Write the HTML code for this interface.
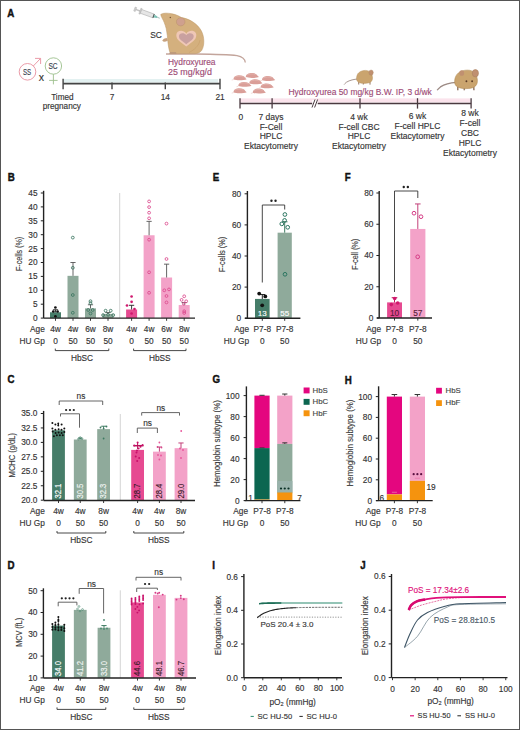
<!DOCTYPE html>
<html><head><meta charset="utf-8"><style>
html,body{margin:0;padding:0;background:#fff;}
#wrap{position:relative;width:520px;height:730px;overflow:hidden;background:#fff;}
#frame{position:absolute;left:0;top:0;width:518px;height:728px;border:1px solid #555;}
svg{position:absolute;left:0;top:0;}
svg text{font-family:'Liberation Sans',sans-serif;}
</style></head><body><div id="wrap">
<svg width="520" height="730" viewBox="0 0 520 730">
<text transform="translate(7.20 16.90) scale(0.84 1)" font-size="11.6" font-weight="bold" fill="#111" stroke="#111" stroke-width="0.45">A</text>
<circle cx="27.50" cy="71.80" r="8.30" fill="none" stroke="#e8909e" stroke-width="0.9"/>
<path d="M33.3 66.0 L40.4 58.6" fill="none" stroke="#e8909e" stroke-width="0.9"/>
<path d="M35.0 58.4 L40.6 58.4 L40.6 64.0" fill="none" stroke="#e8909e" stroke-width="0.9"/>
<text x="27.00" y="74.80" font-size="9.0" text-anchor="middle" fill="#3a4450" stroke="#3a4450" stroke-width="0.14" textLength="8.2" lengthAdjust="spacingAndGlyphs">SS</text>
<text x="41.40" y="80.60" font-size="10.5" text-anchor="middle" fill="#333" stroke="#333" stroke-width="0.14">x</text>
<circle cx="53.40" cy="66.00" r="8.20" fill="none" stroke="#9cc08c" stroke-width="0.9"/>
<line x1="53.40" y1="74.20" x2="53.40" y2="84.40" stroke="#9cc08c" stroke-width="0.9"/>
<line x1="49.10" y1="80.40" x2="57.60" y2="80.40" stroke="#9cc08c" stroke-width="0.9"/>
<text x="53.00" y="69.10" font-size="9.0" text-anchor="middle" fill="#3a4450" stroke="#3a4450" stroke-width="0.14" textLength="9.2" lengthAdjust="spacingAndGlyphs">SC</text>
<rect x="63.10" y="79.00" width="154.90" height="3.60" fill="#e3f1f1"/>
<line x1="63.10" y1="83.60" x2="220.00" y2="83.60" stroke="#444" stroke-width="1.6"/>
<line x1="63.10" y1="78.80" x2="63.10" y2="89.30" stroke="#444" stroke-width="1.4"/>
<line x1="112.00" y1="82.50" x2="112.00" y2="89.30" stroke="#444" stroke-width="1.4"/>
<text x="112.00" y="100.00" font-size="8.3" text-anchor="middle" fill="#333" stroke="#333" stroke-width="0.14">7</text>
<line x1="165.30" y1="82.50" x2="165.30" y2="89.30" stroke="#444" stroke-width="1.4"/>
<text x="165.30" y="100.00" font-size="8.3" text-anchor="middle" fill="#333" stroke="#333" stroke-width="0.14">14</text>
<line x1="220.00" y1="78.80" x2="220.00" y2="89.30" stroke="#444" stroke-width="1.4"/>
<text x="220.00" y="100.00" font-size="8.3" text-anchor="middle" fill="#333" stroke="#333" stroke-width="0.14">21</text>
<text x="62.40" y="100.00" font-size="8.2" text-anchor="middle" fill="#333" stroke="#333" stroke-width="0.14">Timed</text>
<text x="61.80" y="109.40" font-size="8.2" text-anchor="middle" fill="#333" stroke="#333" stroke-width="0.14">pregnancy</text>
<text x="168.00" y="64.60" font-size="8.4" text-anchor="start" fill="#9e4c76" stroke="#9e4c76" stroke-width="0.14">Hydroxyurea</text>
<text x="168.00" y="74.80" font-size="8.6" text-anchor="start" fill="#9e4c76" stroke="#9e4c76" stroke-width="0.14" textLength="44.0" lengthAdjust="spacingAndGlyphs">25 mg/kg/d</text>
<text x="156.00" y="38.20" font-size="8.4" text-anchor="middle" fill="#333" stroke="#333" stroke-width="0.14">SC</text>
<g transform="translate(135 9.2) rotate(20)">
<rect x="0.00" y="-0.70" width="6.00" height="1.40" fill="#c4c4c4"/>
<rect x="-0.6" y="-2.1" width="1.6" height="4.2" fill="#cfcfcf" stroke="#aaa" stroke-width="0.4"/>
<rect x="5.2" y="-3.0" width="1.3" height="6.0" fill="#cfcfcf" stroke="#aaa" stroke-width="0.4"/>
<rect x="6.4" y="-2.0" width="13.4" height="4.0" fill="#e6e6e6" stroke="#a5a5a5" stroke-width="0.5"/>
<rect x="19.20" y="-2.00" width="1.20" height="4.00" fill="#4f5a58"/>
<path d="M20.4 -1.5 L23.6 -0.8 L23.6 0.8 L20.4 1.5 Z" fill="#7cc2b6"/>
<line x1="23.60" y1="0.00" x2="26.30" y2="0.00" stroke="#5a8a84" stroke-width="0.5"/>
</g>
<path d="M166 54.0 L196 54.0 C210 54.2 228 54.6 237 55.6 C242 56.6 245 58.8 245.3 62.5" fill="none" stroke="#c3a59c" stroke-width="1.3"/>
<path d="M160.8 14.3 C163 12.8 168 12.9 172 13.8 C175.5 14.5 178.5 15.6 181.5 17.6 C189.5 18.8 197.5 23.8 201.3 30.8 C204.6 37 204.6 46 201.6 50.5 C200.2 52.5 198 53.4 195 53.6 L170.5 53.6 C169.2 51 168.5 47 168 43 C167.6 38 167.2 33 166.2 28.5 C165 24 163.5 20.5 162.3 18.5 C161.5 17 160.8 15.5 160.8 14.3 Z" fill="#d4b07e" stroke="#bb9462" stroke-width="0.5"/>
<path d="M189 52.5 C194 50 199 46 200 40" fill="none" stroke="#c8a06a" stroke-width="0.6"/>
<ellipse cx="180.7" cy="21.8" rx="4.3" ry="4.1" fill="#cfa08e" stroke="#b8906a" stroke-width="0.5"/>
<circle cx="170.30" cy="17.50" r="0.75" fill="#7a5535"/>
<path d="M186.30 46.50 C180.80 41.88 176.30 40.23 176.30 34.95 C176.30 30.33 183.30 29.01 186.30 33.63 C189.30 29.01 196.30 30.33 196.30 34.95 C196.30 40.23 191.80 41.88 186.30 46.50 Z" fill="#efc7b6"/>
<path d="M186.30 44.20 C182.23 40.95 178.90 39.79 178.90 36.08 C178.90 32.83 184.08 31.90 186.30 35.15 C188.52 31.90 193.70 32.83 193.70 36.08 C193.70 39.79 190.37 40.95 186.30 44.20 Z" fill="#c9a1a0"/>
<path d="M167 38.3 C165 38.2 162.8 39.3 162.6 40.8 C163.5 42 165.8 41.5 167.5 40.6 Z" fill="#c8a282" stroke="#bb9462" stroke-width="0.35"/>
<path d="M169 53.8 L176.5 53.8 L176 52.2 L170 52.2 Z" fill="#b9957a"/>
<g transform="translate(239.9 77.8)">
<path d="M-6.3 1.6 C-6.6 -1.2 -3.5 -2.5 -0.5 -2.5 C2.5 -2.5 4.5 -1.4 5.4 0.2 L6.8 1.4 C4 2.6 -3.5 2.8 -6.3 1.6 Z" fill="#da9e98"/>
<path d="M-5.5 -0.5 C-3 -1.8 1 -2 3.5 -0.8" fill="none" stroke="#e6bcb6" stroke-width="0.6"/>
<line x1="-6.30" y1="1.80" x2="-8.20" y2="2.30" stroke="#e3b8b2" stroke-width="0.5"/>
</g>
<g transform="translate(252.2 75.5)">
<path d="M-6.3 1.6 C-6.6 -1.2 -3.5 -2.5 -0.5 -2.5 C2.5 -2.5 4.5 -1.4 5.4 0.2 L6.8 1.4 C4 2.6 -3.5 2.8 -6.3 1.6 Z" fill="#da9e98"/>
<path d="M-5.5 -0.5 C-3 -1.8 1 -2 3.5 -0.8" fill="none" stroke="#e6bcb6" stroke-width="0.6"/>
<line x1="-6.30" y1="1.80" x2="-8.20" y2="2.30" stroke="#e3b8b2" stroke-width="0.5"/>
</g>
<g transform="translate(268.4 78.6)">
<path d="M-6.3 1.6 C-6.6 -1.2 -3.5 -2.5 -0.5 -2.5 C2.5 -2.5 4.5 -1.4 5.4 0.2 L6.8 1.4 C4 2.6 -3.5 2.8 -6.3 1.6 Z" fill="#da9e98"/>
<path d="M-5.5 -0.5 C-3 -1.8 1 -2 3.5 -0.8" fill="none" stroke="#e6bcb6" stroke-width="0.6"/>
<line x1="-6.30" y1="1.80" x2="-8.20" y2="2.30" stroke="#e3b8b2" stroke-width="0.5"/>
</g>
<g transform="translate(244.7 84.4)">
<path d="M-6.3 1.6 C-6.6 -1.2 -3.5 -2.5 -0.5 -2.5 C2.5 -2.5 4.5 -1.4 5.4 0.2 L6.8 1.4 C4 2.6 -3.5 2.8 -6.3 1.6 Z" fill="#da9e98"/>
<path d="M-5.5 -0.5 C-3 -1.8 1 -2 3.5 -0.8" fill="none" stroke="#e6bcb6" stroke-width="0.6"/>
<line x1="-6.30" y1="1.80" x2="-8.20" y2="2.30" stroke="#e3b8b2" stroke-width="0.5"/>
</g>
<g transform="translate(255.7 81.8)">
<path d="M-6.3 1.6 C-6.6 -1.2 -3.5 -2.5 -0.5 -2.5 C2.5 -2.5 4.5 -1.4 5.4 0.2 L6.8 1.4 C4 2.6 -3.5 2.8 -6.3 1.6 Z" fill="#da9e98"/>
<path d="M-5.5 -0.5 C-3 -1.8 1 -2 3.5 -0.8" fill="none" stroke="#e6bcb6" stroke-width="0.6"/>
<line x1="-6.30" y1="1.80" x2="-8.20" y2="2.30" stroke="#e3b8b2" stroke-width="0.5"/>
</g>
<g transform="translate(267.0 85.9)">
<path d="M-6.3 1.6 C-6.6 -1.2 -3.5 -2.5 -0.5 -2.5 C2.5 -2.5 4.5 -1.4 5.4 0.2 L6.8 1.4 C4 2.6 -3.5 2.8 -6.3 1.6 Z" fill="#da9e98"/>
<path d="M-5.5 -0.5 C-3 -1.8 1 -2 3.5 -0.8" fill="none" stroke="#e6bcb6" stroke-width="0.6"/>
<line x1="-6.30" y1="1.80" x2="-8.20" y2="2.30" stroke="#e3b8b2" stroke-width="0.5"/>
</g>
<g transform="translate(239.9 90.8)">
<path d="M-6.3 1.6 C-6.6 -1.2 -3.5 -2.5 -0.5 -2.5 C2.5 -2.5 4.5 -1.4 5.4 0.2 L6.8 1.4 C4 2.6 -3.5 2.8 -6.3 1.6 Z" fill="#da9e98"/>
<path d="M-5.5 -0.5 C-3 -1.8 1 -2 3.5 -0.8" fill="none" stroke="#e6bcb6" stroke-width="0.6"/>
<line x1="-6.30" y1="1.80" x2="-8.20" y2="2.30" stroke="#e3b8b2" stroke-width="0.5"/>
</g>
<g transform="translate(259.1 91.1)">
<path d="M-6.3 1.6 C-6.6 -1.2 -3.5 -2.5 -0.5 -2.5 C2.5 -2.5 4.5 -1.4 5.4 0.2 L6.8 1.4 C4 2.6 -3.5 2.8 -6.3 1.6 Z" fill="#da9e98"/>
<path d="M-5.5 -0.5 C-3 -1.8 1 -2 3.5 -0.8" fill="none" stroke="#e6bcb6" stroke-width="0.6"/>
<line x1="-6.30" y1="1.80" x2="-8.20" y2="2.30" stroke="#e3b8b2" stroke-width="0.5"/>
</g>
<rect x="240.00" y="98.40" width="230.40" height="4.10" fill="#fbe3ec"/>
<line x1="240.00" y1="103.50" x2="471.10" y2="103.50" stroke="#4a3a40" stroke-width="1.4"/>
<line x1="240.00" y1="98.20" x2="240.00" y2="108.60" stroke="#4a3a40" stroke-width="1.3"/>
<line x1="272.10" y1="98.20" x2="272.10" y2="108.60" stroke="#4a3a40" stroke-width="1.3"/>
<line x1="360.00" y1="98.20" x2="360.00" y2="108.60" stroke="#4a3a40" stroke-width="1.3"/>
<line x1="417.50" y1="98.20" x2="417.50" y2="108.60" stroke="#4a3a40" stroke-width="1.3"/>
<line x1="471.10" y1="98.20" x2="471.10" y2="108.60" stroke="#4a3a40" stroke-width="1.3"/>
<rect x="312.20" y="100.00" width="5.50" height="7.00" fill="#ffffff"/>
<line x1="312.00" y1="107.50" x2="315.00" y2="99.50" stroke="#4a3a40" stroke-width="1.0"/>
<line x1="314.60" y1="107.50" x2="317.60" y2="99.50" stroke="#4a3a40" stroke-width="1.0"/>
<text x="288.50" y="94.60" font-size="8.45" text-anchor="start" fill="#9e4c76" stroke="#9e4c76" stroke-width="0.14" textLength="143.3" lengthAdjust="spacingAndGlyphs">Hydroxyurea 50 mg/kg B.W. IP, 3 d/wk</text>
<text x="240.80" y="119.80" font-size="8.4" text-anchor="middle" fill="#333" stroke="#333" stroke-width="0.14">0</text>
<text x="271.00" y="119.80" font-size="8.5" text-anchor="middle" fill="#333" stroke="#333" stroke-width="0.14">7 days</text>
<text x="271.00" y="129.60" font-size="8.5" text-anchor="middle" fill="#333" stroke="#333" stroke-width="0.14">F-Cell</text>
<text x="271.00" y="139.40" font-size="8.5" text-anchor="middle" fill="#333" stroke="#333" stroke-width="0.14">HPLC</text>
<text x="271.00" y="149.20" font-size="8.5" text-anchor="middle" fill="#333" stroke="#333" stroke-width="0.14">Ektacytometry</text>
<text x="359.00" y="119.80" font-size="8.5" text-anchor="middle" fill="#333" stroke="#333" stroke-width="0.14">4 wk</text>
<text x="359.00" y="129.60" font-size="8.5" text-anchor="middle" fill="#333" stroke="#333" stroke-width="0.14">F-cell CBC</text>
<text x="359.00" y="139.40" font-size="8.5" text-anchor="middle" fill="#333" stroke="#333" stroke-width="0.14">HPLC</text>
<text x="359.00" y="149.20" font-size="8.5" text-anchor="middle" fill="#333" stroke="#333" stroke-width="0.14">Ektacytometry</text>
<text x="417.50" y="119.20" font-size="8.5" text-anchor="middle" fill="#333" stroke="#333" stroke-width="0.14">6 wk</text>
<text x="417.50" y="129.30" font-size="8.5" text-anchor="middle" fill="#333" stroke="#333" stroke-width="0.14">F-cell HPLC</text>
<text x="417.50" y="139.40" font-size="8.5" text-anchor="middle" fill="#333" stroke="#333" stroke-width="0.14">Ektacytometry</text>
<text x="470.00" y="116.40" font-size="8.5" text-anchor="middle" fill="#333" stroke="#333" stroke-width="0.14">8 wk</text>
<text x="470.00" y="126.35" font-size="8.5" text-anchor="middle" fill="#333" stroke="#333" stroke-width="0.14">F-cell</text>
<text x="470.00" y="136.30" font-size="8.5" text-anchor="middle" fill="#333" stroke="#333" stroke-width="0.14">CBC</text>
<text x="470.00" y="146.25" font-size="8.5" text-anchor="middle" fill="#333" stroke="#333" stroke-width="0.14">HPLC</text>
<text x="470.00" y="156.20" font-size="8.5" text-anchor="middle" fill="#333" stroke="#333" stroke-width="0.14">Ektacytometry</text>
<g transform="translate(364.5 77.0) scale(1.0)">
<path d="M-6.8 2 C-10 2.2 -15 3.2 -18 5.2 C-19.3 6.2 -20 7 -20.3 7.6" fill="none" stroke="#9c8a84" stroke-width="0.9"/>
<line x1="-5.80" y1="5.00" x2="-5.80" y2="7.60" stroke="#9a8070" stroke-width="1.1"/>
<line x1="-1.20" y1="5.00" x2="-1.20" y2="7.60" stroke="#9a8070" stroke-width="1.1"/>
<line x1="5.40" y1="5.00" x2="5.60" y2="7.60" stroke="#9a8070" stroke-width="1.1"/>
<path d="M-8 1.5 C-8 -4 -4 -6.6 1 -6.6 C6 -6.6 8 -3 8 1 C8 5 5 6.4 0 6.4 C-5 6.4 -8 5 -8 1.5 Z" fill="#caa46e" stroke="#b08850" stroke-width="0.4"/>
<ellipse cx="6.6" cy="-4.4" rx="2.2" ry="2.6" fill="#c09070" stroke="#a88060" stroke-width="0.4"/>
</g>
<g transform="translate(466.0 79.5) scale(1.42)">
<path d="M-6.8 2 C-10 2.2 -15 3.2 -18 5.2 C-19.3 6.2 -20 7 -20.3 7.6" fill="none" stroke="#9c8a84" stroke-width="0.9"/>
<line x1="-5.80" y1="5.00" x2="-5.80" y2="7.60" stroke="#9a8070" stroke-width="1.1"/>
<line x1="-1.20" y1="5.00" x2="-1.20" y2="7.60" stroke="#9a8070" stroke-width="1.1"/>
<line x1="5.40" y1="5.00" x2="5.60" y2="7.60" stroke="#9a8070" stroke-width="1.1"/>
<path d="M-8 1.5 C-8 -4 -4 -6.6 1 -6.6 C6 -6.6 8 -3 8 1 C8 5 5 6.4 0 6.4 C-5 6.4 -8 5 -8 1.5 Z" fill="#caa46e" stroke="#b08850" stroke-width="0.4"/>
<ellipse cx="6.6" cy="-4.4" rx="2.2" ry="2.6" fill="#c09070" stroke="#a88060" stroke-width="0.4"/>
<ellipse cx="-3.0" cy="-4.6" rx="1.7" ry="2.0" fill="#c09070"/>
<circle cx="0.30" cy="1.20" r="0.65" fill="#5a3a25"/>
<circle cx="4.30" cy="1.20" r="0.65" fill="#5a3a25"/>
</g>
<text transform="translate(7.70 181.10) scale(0.84 1)" font-size="11.6" font-weight="bold" fill="#111" stroke="#111" stroke-width="0.45">B</text>
<line x1="43.60" y1="190.80" x2="43.60" y2="318.10" stroke="#222" stroke-width="1.4"/>
<line x1="40.80" y1="318.10" x2="43.60" y2="318.10" stroke="#222" stroke-width="1.0"/>
<text x="37.60" y="321.00" font-size="8.3" text-anchor="end" fill="#333" stroke="#333" stroke-width="0.14">0</text>
<line x1="40.80" y1="304.20" x2="43.60" y2="304.20" stroke="#222" stroke-width="1.0"/>
<text x="37.60" y="307.10" font-size="8.3" text-anchor="end" fill="#333" stroke="#333" stroke-width="0.14">5</text>
<line x1="40.80" y1="290.30" x2="43.60" y2="290.30" stroke="#222" stroke-width="1.0"/>
<text x="37.60" y="293.20" font-size="8.3" text-anchor="end" fill="#333" stroke="#333" stroke-width="0.14">10</text>
<line x1="40.80" y1="276.40" x2="43.60" y2="276.40" stroke="#222" stroke-width="1.0"/>
<text x="37.60" y="279.30" font-size="8.3" text-anchor="end" fill="#333" stroke="#333" stroke-width="0.14">15</text>
<line x1="40.80" y1="262.50" x2="43.60" y2="262.50" stroke="#222" stroke-width="1.0"/>
<text x="37.60" y="265.40" font-size="8.3" text-anchor="end" fill="#333" stroke="#333" stroke-width="0.14">20</text>
<line x1="40.80" y1="248.60" x2="43.60" y2="248.60" stroke="#222" stroke-width="1.0"/>
<text x="37.60" y="251.50" font-size="8.3" text-anchor="end" fill="#333" stroke="#333" stroke-width="0.14">25</text>
<line x1="40.80" y1="234.70" x2="43.60" y2="234.70" stroke="#222" stroke-width="1.0"/>
<text x="37.60" y="237.60" font-size="8.3" text-anchor="end" fill="#333" stroke="#333" stroke-width="0.14">30</text>
<line x1="40.80" y1="220.80" x2="43.60" y2="220.80" stroke="#222" stroke-width="1.0"/>
<text x="37.60" y="223.70" font-size="8.3" text-anchor="end" fill="#333" stroke="#333" stroke-width="0.14">35</text>
<line x1="40.80" y1="206.90" x2="43.60" y2="206.90" stroke="#222" stroke-width="1.0"/>
<text x="37.60" y="209.80" font-size="8.3" text-anchor="end" fill="#333" stroke="#333" stroke-width="0.14">40</text>
<line x1="40.80" y1="193.00" x2="43.60" y2="193.00" stroke="#222" stroke-width="1.0"/>
<text x="37.60" y="195.90" font-size="8.3" text-anchor="end" fill="#333" stroke="#333" stroke-width="0.14">45</text>
<text x="22.40" y="253.90" font-size="9.6" text-anchor="middle" fill="#3a3a3a" stroke="#3a3a3a" stroke-width="0.14" transform="rotate(-90 22.4 253.9)" textLength="34.3" lengthAdjust="spacingAndGlyphs">F-cells (%)</text>
<line x1="119.70" y1="193.00" x2="119.70" y2="318.10" stroke="#d0d0d0" stroke-width="0.9"/>
<rect x="50.00" y="312.26" width="11.00" height="5.84" fill="#467d69"/>
<rect x="67.50" y="275.84" width="11.00" height="42.26" fill="#8faa9b"/>
<rect x="85.00" y="308.37" width="11.00" height="9.73" fill="#8faa9b"/>
<rect x="102.50" y="313.93" width="11.00" height="4.17" fill="#8faa9b"/>
<rect x="126.10" y="309.48" width="11.00" height="8.62" fill="#e64a91"/>
<rect x="143.60" y="235.26" width="11.00" height="82.84" fill="#f3a2c8"/>
<rect x="161.10" y="277.51" width="11.00" height="40.59" fill="#f3a2c8"/>
<rect x="178.70" y="305.03" width="11.00" height="13.07" fill="#f3a2c8"/>
<line x1="55.50" y1="312.26" x2="55.50" y2="309.76" stroke="#222" stroke-width="0.9"/>
<line x1="52.90" y1="309.76" x2="58.10" y2="309.76" stroke="#222" stroke-width="0.9"/>
<line x1="73.00" y1="275.84" x2="73.00" y2="262.50" stroke="#555" stroke-width="0.9"/>
<line x1="70.40" y1="262.50" x2="75.60" y2="262.50" stroke="#555" stroke-width="0.9"/>
<line x1="90.50" y1="308.37" x2="90.50" y2="304.76" stroke="#555" stroke-width="0.9"/>
<line x1="87.90" y1="304.76" x2="93.10" y2="304.76" stroke="#555" stroke-width="0.9"/>
<line x1="108.00" y1="313.93" x2="108.00" y2="312.54" stroke="#555" stroke-width="0.9"/>
<line x1="105.40" y1="312.54" x2="110.60" y2="312.54" stroke="#555" stroke-width="0.9"/>
<line x1="131.60" y1="309.48" x2="131.60" y2="305.31" stroke="#222" stroke-width="0.9"/>
<line x1="129.00" y1="305.31" x2="134.20" y2="305.31" stroke="#222" stroke-width="0.9"/>
<line x1="149.10" y1="235.26" x2="149.10" y2="221.36" stroke="#555" stroke-width="0.9"/>
<line x1="146.50" y1="221.36" x2="151.70" y2="221.36" stroke="#555" stroke-width="0.9"/>
<line x1="166.60" y1="277.51" x2="166.60" y2="264.17" stroke="#555" stroke-width="0.9"/>
<line x1="164.00" y1="264.17" x2="169.20" y2="264.17" stroke="#555" stroke-width="0.9"/>
<line x1="184.20" y1="305.03" x2="184.20" y2="302.53" stroke="#555" stroke-width="0.9"/>
<line x1="181.60" y1="302.53" x2="186.80" y2="302.53" stroke="#555" stroke-width="0.9"/>
<circle cx="55.40" cy="307.50" r="1.35" fill="#111"/>
<circle cx="53.30" cy="311.50" r="1.35" fill="#111"/>
<circle cx="57.60" cy="311.50" r="1.35" fill="#111"/>
<circle cx="55.40" cy="316.30" r="1.35" fill="#111"/>
<circle cx="72.80" cy="237.60" r="1.40" fill="none" stroke="#3a7560" stroke-width="0.85"/>
<circle cx="72.80" cy="267.80" r="1.40" fill="none" stroke="#3a7560" stroke-width="0.85"/>
<circle cx="72.80" cy="295.00" r="1.40" fill="none" stroke="#3a7560" stroke-width="0.85"/>
<circle cx="72.80" cy="312.80" r="1.40" fill="none" stroke="#3a7560" stroke-width="0.85"/>
<circle cx="90.50" cy="301.20" r="1.40" fill="none" stroke="#3a7560" stroke-width="0.85"/>
<circle cx="90.50" cy="303.20" r="1.40" fill="none" stroke="#3a7560" stroke-width="0.85"/>
<circle cx="88.20" cy="310.00" r="1.40" fill="none" stroke="#3a7560" stroke-width="0.85"/>
<circle cx="92.70" cy="310.00" r="1.40" fill="none" stroke="#3a7560" stroke-width="0.85"/>
<circle cx="90.50" cy="313.50" r="1.40" fill="none" stroke="#3a7560" stroke-width="0.85"/>
<circle cx="105.60" cy="310.70" r="1.40" fill="none" stroke="#3a7560" stroke-width="0.85"/>
<circle cx="110.70" cy="310.70" r="1.40" fill="none" stroke="#3a7560" stroke-width="0.85"/>
<circle cx="103.10" cy="315.10" r="1.40" fill="none" stroke="#3a7560" stroke-width="0.85"/>
<circle cx="108.10" cy="314.70" r="1.40" fill="none" stroke="#3a7560" stroke-width="0.85"/>
<circle cx="113.20" cy="315.10" r="1.40" fill="none" stroke="#3a7560" stroke-width="0.85"/>
<circle cx="131.60" cy="296.50" r="1.35" fill="#d0186e"/>
<circle cx="131.60" cy="301.80" r="1.35" fill="#d0186e"/>
<circle cx="127.00" cy="305.50" r="1.35" fill="#d0186e"/>
<circle cx="131.60" cy="313.50" r="1.35" fill="#d0186e"/>
<circle cx="134.50" cy="309.00" r="1.35" fill="#d0186e"/>
<circle cx="149.10" cy="201.40" r="1.40" fill="none" stroke="#dc4a8e" stroke-width="0.85"/>
<circle cx="149.10" cy="207.10" r="1.40" fill="none" stroke="#dc4a8e" stroke-width="0.85"/>
<circle cx="149.10" cy="212.70" r="1.40" fill="none" stroke="#dc4a8e" stroke-width="0.85"/>
<circle cx="149.10" cy="218.30" r="1.40" fill="none" stroke="#dc4a8e" stroke-width="0.85"/>
<circle cx="149.10" cy="239.70" r="1.40" fill="none" stroke="#dc4a8e" stroke-width="0.85"/>
<circle cx="149.10" cy="272.30" r="1.40" fill="none" stroke="#dc4a8e" stroke-width="0.85"/>
<circle cx="149.10" cy="292.80" r="1.40" fill="none" stroke="#dc4a8e" stroke-width="0.85"/>
<circle cx="166.50" cy="223.60" r="1.40" fill="none" stroke="#dc4a8e" stroke-width="0.85"/>
<circle cx="166.50" cy="259.00" r="1.40" fill="none" stroke="#dc4a8e" stroke-width="0.85"/>
<circle cx="164.30" cy="290.30" r="1.40" fill="none" stroke="#dc4a8e" stroke-width="0.85"/>
<circle cx="169.00" cy="289.40" r="1.40" fill="none" stroke="#dc4a8e" stroke-width="0.85"/>
<circle cx="166.50" cy="296.00" r="1.40" fill="none" stroke="#dc4a8e" stroke-width="0.85"/>
<circle cx="166.50" cy="302.40" r="1.40" fill="none" stroke="#dc4a8e" stroke-width="0.85"/>
<circle cx="184.20" cy="296.30" r="1.40" fill="none" stroke="#dc4a8e" stroke-width="0.85"/>
<circle cx="181.60" cy="299.90" r="1.40" fill="none" stroke="#dc4a8e" stroke-width="0.85"/>
<circle cx="186.20" cy="301.30" r="1.40" fill="none" stroke="#dc4a8e" stroke-width="0.85"/>
<circle cx="183.80" cy="303.80" r="1.40" fill="none" stroke="#dc4a8e" stroke-width="0.85"/>
<circle cx="184.20" cy="311.20" r="1.40" fill="none" stroke="#dc4a8e" stroke-width="0.85"/>
<circle cx="184.20" cy="313.00" r="1.40" fill="none" stroke="#dc4a8e" stroke-width="0.85"/>
<line x1="43.60" y1="318.10" x2="195.00" y2="318.10" stroke="#222" stroke-width="1.4"/>
<line x1="55.50" y1="318.10" x2="55.50" y2="320.80" stroke="#222" stroke-width="0.9"/>
<line x1="73.00" y1="318.10" x2="73.00" y2="320.80" stroke="#222" stroke-width="0.9"/>
<line x1="90.50" y1="318.10" x2="90.50" y2="320.80" stroke="#222" stroke-width="0.9"/>
<line x1="108.00" y1="318.10" x2="108.00" y2="320.80" stroke="#222" stroke-width="0.9"/>
<line x1="131.60" y1="318.10" x2="131.60" y2="320.80" stroke="#222" stroke-width="0.9"/>
<line x1="149.10" y1="318.10" x2="149.10" y2="320.80" stroke="#222" stroke-width="0.9"/>
<line x1="166.60" y1="318.10" x2="166.60" y2="320.80" stroke="#222" stroke-width="0.9"/>
<line x1="184.20" y1="318.10" x2="184.20" y2="320.80" stroke="#222" stroke-width="0.9"/>
<text x="44.80" y="332.00" font-size="8.3" text-anchor="end" fill="#333" stroke="#333" stroke-width="0.14">Age</text>
<text x="44.80" y="343.70" font-size="8.3" text-anchor="end" fill="#333" stroke="#333" stroke-width="0.14">HU Gp</text>
<text x="55.50" y="332.00" font-size="8.3" text-anchor="middle" fill="#333" stroke="#333" stroke-width="0.14">4w</text>
<text x="55.50" y="343.70" font-size="8.3" text-anchor="middle" fill="#333" stroke="#333" stroke-width="0.14">0</text>
<text x="73.00" y="332.00" font-size="8.3" text-anchor="middle" fill="#333" stroke="#333" stroke-width="0.14">4w</text>
<text x="73.00" y="343.70" font-size="8.3" text-anchor="middle" fill="#333" stroke="#333" stroke-width="0.14">50</text>
<text x="90.50" y="332.00" font-size="8.3" text-anchor="middle" fill="#333" stroke="#333" stroke-width="0.14">6w</text>
<text x="90.50" y="343.70" font-size="8.3" text-anchor="middle" fill="#333" stroke="#333" stroke-width="0.14">50</text>
<text x="108.00" y="332.00" font-size="8.3" text-anchor="middle" fill="#333" stroke="#333" stroke-width="0.14">8w</text>
<text x="108.00" y="343.70" font-size="8.3" text-anchor="middle" fill="#333" stroke="#333" stroke-width="0.14">50</text>
<text x="131.60" y="332.00" font-size="8.3" text-anchor="middle" fill="#333" stroke="#333" stroke-width="0.14">4w</text>
<text x="131.60" y="343.70" font-size="8.3" text-anchor="middle" fill="#333" stroke="#333" stroke-width="0.14">0</text>
<text x="149.10" y="332.00" font-size="8.3" text-anchor="middle" fill="#333" stroke="#333" stroke-width="0.14">4w</text>
<text x="149.10" y="343.70" font-size="8.3" text-anchor="middle" fill="#333" stroke="#333" stroke-width="0.14">50</text>
<text x="166.60" y="332.00" font-size="8.3" text-anchor="middle" fill="#333" stroke="#333" stroke-width="0.14">6w</text>
<text x="166.60" y="343.70" font-size="8.3" text-anchor="middle" fill="#333" stroke="#333" stroke-width="0.14">50</text>
<text x="184.20" y="332.00" font-size="8.3" text-anchor="middle" fill="#333" stroke="#333" stroke-width="0.14">8w</text>
<text x="184.20" y="343.70" font-size="8.3" text-anchor="middle" fill="#333" stroke="#333" stroke-width="0.14">50</text>
<path d="M55.3 348.6 L55.3 350.6 L108.8 350.6 L108.8 348.6" fill="none" stroke="#333" stroke-width="0.9"/>
<text x="82.05" y="360.80" font-size="8.3" text-anchor="middle" fill="#333" stroke="#333" stroke-width="0.14">HbSC</text>
<path d="M133.6 348.6 L133.6 350.6 L186.0 350.6 L186.0 348.6" fill="none" stroke="#333" stroke-width="0.9"/>
<text x="159.80" y="360.80" font-size="8.3" text-anchor="middle" fill="#333" stroke="#333" stroke-width="0.14">HbSS</text>
<text transform="translate(212.80 181.20) scale(0.84 1)" font-size="11.6" font-weight="bold" fill="#111" stroke="#111" stroke-width="0.45">E</text>
<line x1="247.40" y1="191.00" x2="247.40" y2="318.20" stroke="#222" stroke-width="1.4"/>
<line x1="244.60" y1="318.20" x2="247.40" y2="318.20" stroke="#222" stroke-width="1.0"/>
<text x="241.20" y="321.10" font-size="8.3" text-anchor="end" fill="#333" stroke="#333" stroke-width="0.14">0</text>
<line x1="244.60" y1="287.10" x2="247.40" y2="287.10" stroke="#222" stroke-width="1.0"/>
<text x="241.20" y="290.00" font-size="8.3" text-anchor="end" fill="#333" stroke="#333" stroke-width="0.14">20</text>
<line x1="244.60" y1="256.00" x2="247.40" y2="256.00" stroke="#222" stroke-width="1.0"/>
<text x="241.20" y="258.90" font-size="8.3" text-anchor="end" fill="#333" stroke="#333" stroke-width="0.14">40</text>
<line x1="244.60" y1="224.90" x2="247.40" y2="224.90" stroke="#222" stroke-width="1.0"/>
<text x="241.20" y="227.80" font-size="8.3" text-anchor="end" fill="#333" stroke="#333" stroke-width="0.14">60</text>
<line x1="244.60" y1="193.80" x2="247.40" y2="193.80" stroke="#222" stroke-width="1.0"/>
<text x="241.20" y="196.70" font-size="8.3" text-anchor="end" fill="#333" stroke="#333" stroke-width="0.14">80</text>
<text x="225.30" y="254.30" font-size="9.5" text-anchor="middle" fill="#3a3a3a" stroke="#3a3a3a" stroke-width="0.14" transform="rotate(-90 225.3 254.3)" textLength="35.2" lengthAdjust="spacingAndGlyphs">F-cells (%)</text>
<rect x="255.00" y="298.92" width="14.60" height="19.28" fill="#467d69"/>
<rect x="277.60" y="232.68" width="14.20" height="85.52" fill="#8faa9b"/>
<line x1="262.30" y1="298.92" x2="262.30" y2="294.56" stroke="#222" stroke-width="1.0"/>
<line x1="259.50" y1="294.56" x2="265.10" y2="294.56" stroke="#222" stroke-width="1.0"/>
<line x1="284.70" y1="232.68" x2="284.70" y2="221.79" stroke="#3d7a61" stroke-width="1.0"/>
<line x1="281.90" y1="221.79" x2="287.50" y2="221.79" stroke="#3d7a61" stroke-width="1.0"/>
<circle cx="259.20" cy="293.60" r="1.90" fill="#111"/>
<circle cx="265.30" cy="296.40" r="1.90" fill="#111"/>
<circle cx="262.20" cy="305.30" r="1.90" fill="#111"/>
<circle cx="284.90" cy="214.50" r="1.85" fill="none" stroke="#2a7560" stroke-width="1.0"/>
<circle cx="284.60" cy="220.40" r="1.85" fill="none" stroke="#2a7560" stroke-width="1.0"/>
<circle cx="281.80" cy="223.90" r="1.85" fill="none" stroke="#2a7560" stroke-width="1.0"/>
<circle cx="287.70" cy="227.30" r="1.85" fill="none" stroke="#2a7560" stroke-width="1.0"/>
<circle cx="285.00" cy="274.30" r="1.85" fill="none" stroke="#2a7560" stroke-width="1.0"/>
<path d="M262.30 282.50 L262.30 205.00 L284.70 205.00 L284.70 209.50" fill="none" stroke="#333" stroke-width="0.9"/>
<circle cx="271.45" cy="200.80" r="1.20" fill="#222"/>
<circle cx="275.55" cy="200.80" r="1.20" fill="#222"/>
<text x="262.30" y="315.80" font-size="8" text-anchor="middle" fill="#fff" stroke="#fff" stroke-width="0.14">13</text>
<text x="284.70" y="315.80" font-size="8" text-anchor="middle" fill="#fff" stroke="#fff" stroke-width="0.14">55</text>
<line x1="245.00" y1="318.20" x2="300.40" y2="318.20" stroke="#222" stroke-width="1.4"/>
<line x1="262.30" y1="318.20" x2="262.30" y2="320.80" stroke="#222" stroke-width="0.9"/>
<line x1="284.70" y1="318.20" x2="284.70" y2="320.80" stroke="#222" stroke-width="0.9"/>
<text x="249.00" y="332.00" font-size="8.3" text-anchor="end" fill="#333" stroke="#333" stroke-width="0.14">Age</text>
<text x="249.00" y="343.80" font-size="8.3" text-anchor="end" fill="#333" stroke="#333" stroke-width="0.14">HU Gp</text>
<text x="262.30" y="332.00" font-size="8.3" text-anchor="middle" fill="#333" stroke="#333" stroke-width="0.14">P7-8</text>
<text x="262.30" y="343.80" font-size="8.3" text-anchor="middle" fill="#333" stroke="#333" stroke-width="0.14">0</text>
<text x="284.70" y="332.00" font-size="8.3" text-anchor="middle" fill="#333" stroke="#333" stroke-width="0.14">P7-8</text>
<text x="284.70" y="343.80" font-size="8.3" text-anchor="middle" fill="#333" stroke="#333" stroke-width="0.14">50</text>
<text transform="translate(344.80 181.20) scale(0.84 1)" font-size="11.6" font-weight="bold" fill="#111" stroke="#111" stroke-width="0.45">F</text>
<line x1="379.20" y1="191.00" x2="379.20" y2="318.00" stroke="#222" stroke-width="1.4"/>
<line x1="376.40" y1="318.00" x2="379.20" y2="318.00" stroke="#222" stroke-width="1.0"/>
<text x="373.40" y="320.90" font-size="8.3" text-anchor="end" fill="#333" stroke="#333" stroke-width="0.14">0</text>
<line x1="376.40" y1="286.75" x2="379.20" y2="286.75" stroke="#222" stroke-width="1.0"/>
<text x="373.40" y="289.65" font-size="8.3" text-anchor="end" fill="#333" stroke="#333" stroke-width="0.14">20</text>
<line x1="376.40" y1="255.50" x2="379.20" y2="255.50" stroke="#222" stroke-width="1.0"/>
<text x="373.40" y="258.40" font-size="8.3" text-anchor="end" fill="#333" stroke="#333" stroke-width="0.14">40</text>
<line x1="376.40" y1="224.25" x2="379.20" y2="224.25" stroke="#222" stroke-width="1.0"/>
<text x="373.40" y="227.15" font-size="8.3" text-anchor="end" fill="#333" stroke="#333" stroke-width="0.14">60</text>
<line x1="376.40" y1="193.00" x2="379.20" y2="193.00" stroke="#222" stroke-width="1.0"/>
<text x="373.40" y="195.90" font-size="8.3" text-anchor="end" fill="#333" stroke="#333" stroke-width="0.14">80</text>
<text x="358.00" y="254.30" font-size="9.4" text-anchor="middle" fill="#3a3a3a" stroke="#3a3a3a" stroke-width="0.14" transform="rotate(-90 358.0 254.3)" textLength="30.8" lengthAdjust="spacingAndGlyphs">F-cell (%)</text>
<rect x="387.10" y="302.38" width="14.90" height="15.62" fill="#e64a91"/>
<rect x="410.20" y="228.94" width="15.20" height="89.06" fill="#f3a2c8"/>
<line x1="394.50" y1="302.38" x2="394.50" y2="297.69" stroke="#c2185b" stroke-width="1.0"/>
<line x1="391.70" y1="297.69" x2="397.30" y2="297.69" stroke="#c2185b" stroke-width="1.0"/>
<line x1="417.80" y1="228.94" x2="417.80" y2="203.94" stroke="#c2407a" stroke-width="1.0"/>
<line x1="415.00" y1="203.94" x2="420.60" y2="203.94" stroke="#c2407a" stroke-width="1.0"/>
<circle cx="394.70" cy="298.50" r="1.80" fill="#d0186e"/>
<circle cx="391.30" cy="304.60" r="1.80" fill="#d0186e"/>
<circle cx="397.70" cy="303.00" r="1.80" fill="#d0186e"/>
<circle cx="414.00" cy="213.20" r="1.85" fill="none" stroke="#d63c86" stroke-width="1.0"/>
<circle cx="421.00" cy="216.70" r="1.85" fill="none" stroke="#d63c86" stroke-width="1.0"/>
<circle cx="417.70" cy="256.80" r="1.85" fill="none" stroke="#d63c86" stroke-width="1.0"/>
<path d="M394.50 292.00 L394.50 191.00 L417.80 191.00 L417.80 198.00" fill="none" stroke="#333" stroke-width="0.9"/>
<circle cx="403.75" cy="187.00" r="1.20" fill="#222"/>
<circle cx="407.85" cy="187.00" r="1.20" fill="#222"/>
<text x="394.50" y="315.60" font-size="8.3" text-anchor="middle" fill="#5a1a36" stroke="#5a1a36" stroke-width="0.14">10</text>
<text x="417.80" y="315.60" font-size="8.3" text-anchor="middle" fill="#5a1a36" stroke="#5a1a36" stroke-width="0.14">57</text>
<line x1="377.00" y1="318.00" x2="432.00" y2="318.00" stroke="#222" stroke-width="1.4"/>
<line x1="394.50" y1="318.00" x2="394.50" y2="320.60" stroke="#222" stroke-width="0.9"/>
<line x1="417.80" y1="318.00" x2="417.80" y2="320.60" stroke="#222" stroke-width="0.9"/>
<text x="381.00" y="332.00" font-size="8.3" text-anchor="end" fill="#333" stroke="#333" stroke-width="0.14">Age</text>
<text x="381.00" y="343.80" font-size="8.3" text-anchor="end" fill="#333" stroke="#333" stroke-width="0.14">HU Gp</text>
<text x="394.50" y="332.00" font-size="8.3" text-anchor="middle" fill="#333" stroke="#333" stroke-width="0.14">P7-8</text>
<text x="394.50" y="343.80" font-size="8.3" text-anchor="middle" fill="#333" stroke="#333" stroke-width="0.14">0</text>
<text x="417.80" y="332.00" font-size="8.3" text-anchor="middle" fill="#333" stroke="#333" stroke-width="0.14">P7-8</text>
<text x="417.80" y="343.80" font-size="8.3" text-anchor="middle" fill="#333" stroke="#333" stroke-width="0.14">50</text>
<text transform="translate(7.50 383.10) scale(0.84 1)" font-size="11.6" font-weight="bold" fill="#111" stroke="#111" stroke-width="0.45">C</text>
<line x1="43.60" y1="410.90" x2="43.60" y2="500.20" stroke="#222" stroke-width="1.4"/>
<line x1="40.80" y1="413.50" x2="43.60" y2="413.50" stroke="#222" stroke-width="1.0"/>
<text x="37.40" y="416.40" font-size="8.3" text-anchor="end" fill="#333" stroke="#333" stroke-width="0.14">35.0</text>
<line x1="40.80" y1="427.95" x2="43.60" y2="427.95" stroke="#222" stroke-width="1.0"/>
<text x="37.40" y="430.85" font-size="8.3" text-anchor="end" fill="#333" stroke="#333" stroke-width="0.14">32.5</text>
<line x1="40.80" y1="442.40" x2="43.60" y2="442.40" stroke="#222" stroke-width="1.0"/>
<text x="37.40" y="445.30" font-size="8.3" text-anchor="end" fill="#333" stroke="#333" stroke-width="0.14">30.0</text>
<line x1="40.80" y1="456.85" x2="43.60" y2="456.85" stroke="#222" stroke-width="1.0"/>
<text x="37.40" y="459.75" font-size="8.3" text-anchor="end" fill="#333" stroke="#333" stroke-width="0.14">27.5</text>
<line x1="40.80" y1="471.30" x2="43.60" y2="471.30" stroke="#222" stroke-width="1.0"/>
<text x="37.40" y="474.20" font-size="8.3" text-anchor="end" fill="#333" stroke="#333" stroke-width="0.14">25.0</text>
<line x1="40.80" y1="485.75" x2="43.60" y2="485.75" stroke="#222" stroke-width="1.0"/>
<text x="37.40" y="488.65" font-size="8.3" text-anchor="end" fill="#333" stroke="#333" stroke-width="0.14">22.5</text>
<line x1="40.80" y1="500.20" x2="43.60" y2="500.20" stroke="#222" stroke-width="1.0"/>
<text x="37.40" y="503.10" font-size="8.3" text-anchor="end" fill="#333" stroke="#333" stroke-width="0.14">20.0</text>
<text x="15.30" y="455.20" font-size="9.6" text-anchor="middle" fill="#3a3a3a" stroke="#3a3a3a" stroke-width="0.14" transform="rotate(-90 15.3 455.2)" textLength="44.4" lengthAdjust="spacingAndGlyphs">MCHC (g/dL)</text>
<line x1="120.30" y1="414.00" x2="120.30" y2="500.20" stroke="#d0d0d0" stroke-width="0.9"/>
<rect x="52.10" y="430.26" width="12.80" height="69.94" fill="#467d69"/>
<rect x="73.85" y="439.51" width="12.80" height="60.69" fill="#8faa9b"/>
<rect x="97.20" y="429.11" width="12.80" height="71.09" fill="#8faa9b"/>
<rect x="131.20" y="449.91" width="12.80" height="50.29" fill="#e64a91"/>
<rect x="153.00" y="451.65" width="12.80" height="48.55" fill="#f3a2c8"/>
<rect x="174.60" y="448.18" width="12.80" height="52.02" fill="#f3a2c8"/>
<circle cx="52.40" cy="422.90" r="1.00" fill="#111"/>
<circle cx="55.40" cy="424.60" r="1.00" fill="#111"/>
<circle cx="61.60" cy="424.60" r="1.00" fill="#111"/>
<circle cx="52.40" cy="428.40" r="1.00" fill="#111"/>
<circle cx="55.40" cy="429.70" r="1.00" fill="#111"/>
<circle cx="58.60" cy="429.20" r="1.00" fill="#111"/>
<circle cx="61.50" cy="429.80" r="1.00" fill="#111"/>
<circle cx="64.30" cy="428.60" r="1.00" fill="#111"/>
<circle cx="52.70" cy="431.60" r="1.00" fill="#111"/>
<circle cx="55.60" cy="433.00" r="1.00" fill="#111"/>
<circle cx="58.60" cy="432.60" r="1.00" fill="#111"/>
<circle cx="61.60" cy="433.00" r="1.00" fill="#111"/>
<circle cx="64.30" cy="432.00" r="1.00" fill="#111"/>
<circle cx="53.90" cy="436.20" r="1.00" fill="#111"/>
<circle cx="56.90" cy="435.20" r="1.00" fill="#111"/>
<circle cx="59.90" cy="435.20" r="1.00" fill="#111"/>
<circle cx="62.80" cy="435.20" r="1.00" fill="#111"/>
<line x1="58.30" y1="423.00" x2="58.30" y2="426.00" stroke="#111" stroke-width="1.3"/>
<circle cx="58.30" cy="423.30" r="0.90" fill="#111"/>
<circle cx="58.30" cy="425.60" r="0.90" fill="#111"/>
<circle cx="78.50" cy="439.00" r="0.90" fill="none" stroke="#3d7a61" stroke-width="0.6"/>
<circle cx="80.20" cy="437.60" r="0.90" fill="none" stroke="#3d7a61" stroke-width="0.6"/>
<circle cx="82.00" cy="438.80" r="0.90" fill="none" stroke="#3d7a61" stroke-width="0.6"/>
<line x1="80.25" y1="439.51" x2="80.25" y2="438.06" stroke="#3d7a61" stroke-width="1.0"/>
<line x1="78.25" y1="438.06" x2="82.25" y2="438.06" stroke="#3d7a61" stroke-width="1.0"/>
<circle cx="100.50" cy="427.50" r="0.90" fill="#3d7a61"/>
<circle cx="103.60" cy="428.60" r="0.90" fill="#3d7a61"/>
<circle cx="106.50" cy="426.50" r="0.90" fill="#3d7a61"/>
<circle cx="103.60" cy="438.50" r="0.90" fill="#3d7a61"/>
<line x1="103.60" y1="429.11" x2="103.60" y2="426.22" stroke="#3d7a61" stroke-width="1.0"/>
<line x1="101.20" y1="426.22" x2="106.00" y2="426.22" stroke="#3d7a61" stroke-width="1.0"/>
<line x1="133.50" y1="445.70" x2="143.50" y2="445.70" stroke="#b8105a" stroke-width="1.5"/>
<line x1="137.60" y1="442.40" x2="137.60" y2="449.00" stroke="#b8105a" stroke-width="1.0"/>
<circle cx="137.60" cy="442.40" r="1.00" fill="#c8106a"/>
<circle cx="142.60" cy="445.00" r="1.00" fill="#c8106a"/>
<circle cx="140.50" cy="446.80" r="1.00" fill="#c8106a"/>
<circle cx="138.60" cy="448.60" r="1.00" fill="#c8106a"/>
<circle cx="137.00" cy="450.50" r="1.00" fill="#c8106a"/>
<circle cx="136.50" cy="452.50" r="1.00" fill="#c8106a"/>
<circle cx="135.70" cy="456.50" r="1.00" fill="#c8106a"/>
<circle cx="139.20" cy="458.00" r="1.00" fill="#c8106a"/>
<circle cx="137.20" cy="461.00" r="1.00" fill="#c8106a"/>
<circle cx="134.20" cy="445.60" r="1.00" fill="#c8106a"/>
<circle cx="159.40" cy="442.50" r="0.90" fill="#e8559a"/>
<circle cx="157.50" cy="447.00" r="0.90" fill="#e8559a"/>
<circle cx="161.50" cy="447.50" r="0.90" fill="#e8559a"/>
<circle cx="158.00" cy="455.00" r="0.90" fill="#e8559a"/>
<circle cx="161.00" cy="455.50" r="0.90" fill="#e8559a"/>
<circle cx="159.40" cy="459.50" r="0.90" fill="#e8559a"/>
<line x1="159.40" y1="451.65" x2="159.40" y2="447.02" stroke="#c2407a" stroke-width="1.0"/>
<line x1="157.00" y1="447.02" x2="161.80" y2="447.02" stroke="#c2407a" stroke-width="1.0"/>
<circle cx="181.20" cy="431.00" r="0.90" fill="#e8559a"/>
<circle cx="180.00" cy="448.50" r="0.90" fill="#e8559a"/>
<circle cx="183.00" cy="450.00" r="0.90" fill="#e8559a"/>
<circle cx="181.00" cy="458.00" r="0.90" fill="#e8559a"/>
<line x1="181.00" y1="448.18" x2="181.00" y2="442.98" stroke="#c2407a" stroke-width="1.0"/>
<line x1="178.40" y1="442.98" x2="183.60" y2="442.98" stroke="#c2407a" stroke-width="1.0"/>
<text x="61.40" y="498.60" font-size="8.6" text-anchor="start" fill="#fff" stroke="#fff" stroke-width="0.14" transform="rotate(-90 61.4 498.6)" textLength="15.0" lengthAdjust="spacingAndGlyphs">32.1</text>
<text x="83.15" y="498.60" font-size="8.6" text-anchor="start" fill="#f0f5f2" stroke="#f0f5f2" stroke-width="0.14" transform="rotate(-90 83.15 498.6)" textLength="15.0" lengthAdjust="spacingAndGlyphs">30.5</text>
<text x="106.50" y="498.60" font-size="8.6" text-anchor="start" fill="#f0f5f2" stroke="#f0f5f2" stroke-width="0.14" transform="rotate(-90 106.5 498.6)" textLength="15.0" lengthAdjust="spacingAndGlyphs">32.3</text>
<text x="140.50" y="498.60" font-size="8.6" text-anchor="start" fill="#3a1a2a" stroke="#3a1a2a" stroke-width="0.14" transform="rotate(-90 140.5 498.6)" textLength="15.0" lengthAdjust="spacingAndGlyphs">28.7</text>
<text x="162.30" y="498.60" font-size="8.6" text-anchor="start" fill="#3a1a2a" stroke="#3a1a2a" stroke-width="0.14" transform="rotate(-90 162.3 498.6)" textLength="15.0" lengthAdjust="spacingAndGlyphs">28.4</text>
<text x="183.90" y="498.60" font-size="8.6" text-anchor="start" fill="#3a1a2a" stroke="#3a1a2a" stroke-width="0.14" transform="rotate(-90 183.9 498.6)" textLength="15.0" lengthAdjust="spacingAndGlyphs">29.0</text>
<line x1="43.60" y1="500.50" x2="195.00" y2="500.50" stroke="#222" stroke-width="1.4"/>
<line x1="58.50" y1="500.50" x2="58.50" y2="503.00" stroke="#222" stroke-width="0.9"/>
<line x1="80.25" y1="500.50" x2="80.25" y2="503.00" stroke="#222" stroke-width="0.9"/>
<line x1="103.60" y1="500.50" x2="103.60" y2="503.00" stroke="#222" stroke-width="0.9"/>
<line x1="137.60" y1="500.50" x2="137.60" y2="503.00" stroke="#222" stroke-width="0.9"/>
<line x1="159.40" y1="500.50" x2="159.40" y2="503.00" stroke="#222" stroke-width="0.9"/>
<line x1="181.00" y1="500.50" x2="181.00" y2="503.00" stroke="#222" stroke-width="0.9"/>
<path d="M60.50 416.50 L60.50 413.80 L79.50 413.80 L79.50 427.70" fill="none" stroke="#555" stroke-width="0.9"/>
<circle cx="66.10" cy="410.00" r="1.12" fill="#222"/>
<circle cx="69.95" cy="410.00" r="1.12" fill="#222"/>
<circle cx="73.80" cy="410.00" r="1.12" fill="#222"/>
<path d="M59.20 405.00 L59.20 401.00 L102.70 401.00 L102.70 405.00" fill="none" stroke="#555" stroke-width="0.9"/>
<text x="81.00" y="398.70" font-size="8.3" text-anchor="middle" fill="#333" stroke="#333" stroke-width="0.14">ns</text>
<path d="M137.30 433.00 L137.30 428.10 L157.40 428.10 L157.40 433.00" fill="none" stroke="#555" stroke-width="0.9"/>
<text x="147.60" y="426.30" font-size="8.3" text-anchor="middle" fill="#333" stroke="#333" stroke-width="0.14">ns</text>
<path d="M141.70 415.60 L141.70 412.60 L179.50 412.60 L179.50 415.60" fill="none" stroke="#555" stroke-width="0.9"/>
<text x="160.80" y="410.70" font-size="8.3" text-anchor="middle" fill="#333" stroke="#333" stroke-width="0.14">ns</text>
<text x="44.80" y="514.20" font-size="8.3" text-anchor="end" fill="#333" stroke="#333" stroke-width="0.14">Age</text>
<text x="44.80" y="525.80" font-size="8.3" text-anchor="end" fill="#333" stroke="#333" stroke-width="0.14">HU Gp</text>
<text x="58.50" y="514.20" font-size="8.3" text-anchor="middle" fill="#333" stroke="#333" stroke-width="0.14">4w</text>
<text x="58.50" y="525.80" font-size="8.3" text-anchor="middle" fill="#333" stroke="#333" stroke-width="0.14">0</text>
<text x="80.25" y="514.20" font-size="8.3" text-anchor="middle" fill="#333" stroke="#333" stroke-width="0.14">4w</text>
<text x="80.25" y="525.80" font-size="8.3" text-anchor="middle" fill="#333" stroke="#333" stroke-width="0.14">50</text>
<text x="103.60" y="514.20" font-size="8.3" text-anchor="middle" fill="#333" stroke="#333" stroke-width="0.14">8w</text>
<text x="103.60" y="525.80" font-size="8.3" text-anchor="middle" fill="#333" stroke="#333" stroke-width="0.14">50</text>
<text x="137.60" y="514.20" font-size="8.3" text-anchor="middle" fill="#333" stroke="#333" stroke-width="0.14">4w</text>
<text x="137.60" y="525.80" font-size="8.3" text-anchor="middle" fill="#333" stroke="#333" stroke-width="0.14">0</text>
<text x="159.40" y="514.20" font-size="8.3" text-anchor="middle" fill="#333" stroke="#333" stroke-width="0.14">4w</text>
<text x="159.40" y="525.80" font-size="8.3" text-anchor="middle" fill="#333" stroke="#333" stroke-width="0.14">50</text>
<text x="181.00" y="514.20" font-size="8.3" text-anchor="middle" fill="#333" stroke="#333" stroke-width="0.14">8w</text>
<text x="181.00" y="525.80" font-size="8.3" text-anchor="middle" fill="#333" stroke="#333" stroke-width="0.14">50</text>
<path d="M57.0 531.0 L57.0 533.0 L105.8 533.0 L105.8 531.0" fill="none" stroke="#333" stroke-width="0.9"/>
<text x="81.40" y="542.70" font-size="8.3" text-anchor="middle" fill="#333" stroke="#333" stroke-width="0.14">HbSC</text>
<path d="M133.8 531.0 L133.8 533.0 L183.8 533.0 L183.8 531.0" fill="none" stroke="#333" stroke-width="0.9"/>
<text x="158.80" y="542.70" font-size="8.3" text-anchor="middle" fill="#333" stroke="#333" stroke-width="0.14">HbSS</text>
<text transform="translate(7.50 568.80) scale(0.84 1)" font-size="11.6" font-weight="bold" fill="#111" stroke="#111" stroke-width="0.45">D</text>
<line x1="43.40" y1="588.30" x2="43.40" y2="677.90" stroke="#222" stroke-width="1.4"/>
<line x1="40.60" y1="590.70" x2="43.40" y2="590.70" stroke="#222" stroke-width="1.0"/>
<text x="37.40" y="593.60" font-size="8.3" text-anchor="end" fill="#333" stroke="#333" stroke-width="0.14">50</text>
<line x1="40.60" y1="612.50" x2="43.40" y2="612.50" stroke="#222" stroke-width="1.0"/>
<text x="37.40" y="615.40" font-size="8.3" text-anchor="end" fill="#333" stroke="#333" stroke-width="0.14">40</text>
<line x1="40.60" y1="634.30" x2="43.40" y2="634.30" stroke="#222" stroke-width="1.0"/>
<text x="37.40" y="637.20" font-size="8.3" text-anchor="end" fill="#333" stroke="#333" stroke-width="0.14">30</text>
<line x1="40.60" y1="656.10" x2="43.40" y2="656.10" stroke="#222" stroke-width="1.0"/>
<text x="37.40" y="659.00" font-size="8.3" text-anchor="end" fill="#333" stroke="#333" stroke-width="0.14">20</text>
<line x1="40.60" y1="677.90" x2="43.40" y2="677.90" stroke="#222" stroke-width="1.0"/>
<text x="37.40" y="680.80" font-size="8.3" text-anchor="end" fill="#333" stroke="#333" stroke-width="0.14">10</text>
<text x="22.50" y="632.30" font-size="9.6" text-anchor="middle" fill="#3a3a3a" stroke="#3a3a3a" stroke-width="0.14" transform="rotate(-90 22.5 632.3)" textLength="29.0" lengthAdjust="spacingAndGlyphs">MCV (fL)</text>
<line x1="120.30" y1="590.30" x2="120.30" y2="677.90" stroke="#d0d0d0" stroke-width="0.9"/>
<rect x="52.10" y="625.58" width="12.80" height="52.32" fill="#467d69"/>
<rect x="73.85" y="609.88" width="12.80" height="68.02" fill="#8faa9b"/>
<rect x="97.60" y="627.76" width="12.80" height="50.14" fill="#8faa9b"/>
<rect x="131.10" y="602.47" width="12.80" height="75.43" fill="#e64a91"/>
<rect x="153.00" y="594.84" width="12.80" height="83.06" fill="#f3a2c8"/>
<rect x="174.60" y="597.89" width="12.80" height="80.01" fill="#f3a2c8"/>
<line x1="52.40" y1="623.90" x2="52.40" y2="629.80" stroke="#111" stroke-width="0.6"/>
<circle cx="52.40" cy="623.90" r="1.00" fill="#111"/>
<circle cx="52.40" cy="626.90" r="1.00" fill="#111"/>
<circle cx="52.40" cy="629.80" r="1.00" fill="#111"/>
<line x1="55.40" y1="622.40" x2="55.40" y2="629.60" stroke="#111" stroke-width="0.6"/>
<circle cx="55.40" cy="622.40" r="1.00" fill="#111"/>
<circle cx="55.40" cy="625.00" r="1.00" fill="#111"/>
<circle cx="55.40" cy="627.50" r="1.00" fill="#111"/>
<circle cx="55.40" cy="629.60" r="1.00" fill="#111"/>
<line x1="58.40" y1="616.90" x2="58.40" y2="630.20" stroke="#111" stroke-width="0.6"/>
<circle cx="58.40" cy="616.90" r="1.00" fill="#111"/>
<circle cx="58.40" cy="619.70" r="1.00" fill="#111"/>
<circle cx="58.40" cy="620.90" r="1.00" fill="#111"/>
<circle cx="58.40" cy="624.50" r="1.00" fill="#111"/>
<circle cx="58.40" cy="627.50" r="1.00" fill="#111"/>
<circle cx="58.40" cy="630.20" r="1.00" fill="#111"/>
<line x1="61.30" y1="627.50" x2="61.30" y2="630.00" stroke="#111" stroke-width="0.6"/>
<circle cx="61.30" cy="627.50" r="1.00" fill="#111"/>
<circle cx="61.30" cy="630.00" r="1.00" fill="#111"/>
<line x1="64.30" y1="624.70" x2="64.30" y2="631.10" stroke="#111" stroke-width="0.6"/>
<circle cx="64.30" cy="624.70" r="1.00" fill="#111"/>
<circle cx="64.30" cy="628.30" r="1.00" fill="#111"/>
<circle cx="64.30" cy="631.10" r="1.00" fill="#111"/>
<circle cx="77.50" cy="609.00" r="0.90" fill="none" stroke="#4a8a70" stroke-width="0.6"/>
<circle cx="80.00" cy="611.00" r="0.90" fill="none" stroke="#4a8a70" stroke-width="0.6"/>
<circle cx="82.50" cy="609.50" r="0.90" fill="none" stroke="#4a8a70" stroke-width="0.6"/>
<circle cx="79.00" cy="606.50" r="0.90" fill="none" stroke="#4a8a70" stroke-width="0.6"/>
<circle cx="104.00" cy="620.00" r="0.90" fill="#4a8a70"/>
<circle cx="101.00" cy="628.50" r="0.90" fill="#4a8a70"/>
<circle cx="104.00" cy="629.00" r="0.90" fill="#4a8a70"/>
<circle cx="107.00" cy="628.50" r="0.90" fill="#4a8a70"/>
<line x1="104.00" y1="627.76" x2="104.00" y2="625.58" stroke="#3d7a61" stroke-width="1.0"/>
<line x1="101.40" y1="625.58" x2="106.60" y2="625.58" stroke="#3d7a61" stroke-width="1.0"/>
<circle cx="131.60" cy="598.50" r="0.95" fill="#c8106a"/>
<circle cx="131.60" cy="600.00" r="0.95" fill="#c8106a"/>
<circle cx="131.60" cy="601.50" r="0.95" fill="#c8106a"/>
<circle cx="131.60" cy="603.00" r="0.95" fill="#c8106a"/>
<circle cx="131.60" cy="604.50" r="0.95" fill="#c8106a"/>
<circle cx="135.40" cy="598.00" r="0.95" fill="#c8106a"/>
<circle cx="135.40" cy="599.50" r="0.95" fill="#c8106a"/>
<circle cx="135.40" cy="601.00" r="0.95" fill="#c8106a"/>
<circle cx="135.40" cy="602.50" r="0.95" fill="#c8106a"/>
<circle cx="135.40" cy="604.00" r="0.95" fill="#c8106a"/>
<circle cx="139.30" cy="596.50" r="0.95" fill="#c8106a"/>
<circle cx="139.30" cy="598.00" r="0.95" fill="#c8106a"/>
<circle cx="139.30" cy="599.50" r="0.95" fill="#c8106a"/>
<circle cx="139.30" cy="601.00" r="0.95" fill="#c8106a"/>
<circle cx="143.10" cy="595.50" r="0.95" fill="#c8106a"/>
<circle cx="143.10" cy="597.00" r="0.95" fill="#c8106a"/>
<circle cx="143.10" cy="598.50" r="0.95" fill="#c8106a"/>
<circle cx="143.10" cy="600.00" r="0.95" fill="#c8106a"/>
<circle cx="143.10" cy="603.50" r="0.95" fill="#c8106a"/>
<circle cx="139.50" cy="604.40" r="0.95" fill="#c8106a"/>
<circle cx="137.40" cy="606.90" r="0.95" fill="#c8106a"/>
<circle cx="135.40" cy="609.00" r="0.95" fill="#c8106a"/>
<circle cx="139.10" cy="610.40" r="0.95" fill="#c8106a"/>
<circle cx="137.40" cy="612.60" r="0.95" fill="#c8106a"/>
<circle cx="155.40" cy="592.70" r="0.95" fill="#d63a86"/>
<circle cx="157.70" cy="593.50" r="0.95" fill="#d63a86"/>
<circle cx="159.20" cy="592.70" r="0.95" fill="#d63a86"/>
<circle cx="162.70" cy="594.60" r="0.95" fill="#d63a86"/>
<circle cx="158.80" cy="607.30" r="0.95" fill="#d63a86"/>
<circle cx="176.50" cy="599.60" r="0.95" fill="#d63a86"/>
<circle cx="180.80" cy="595.80" r="0.95" fill="#d63a86"/>
<circle cx="180.80" cy="598.10" r="0.95" fill="#d63a86"/>
<circle cx="183.80" cy="599.20" r="0.95" fill="#d63a86"/>
<text x="61.40" y="676.00" font-size="8.6" text-anchor="start" fill="#fff" stroke="#fff" stroke-width="0.14" transform="rotate(-90 61.4 676.0)" textLength="15.0" lengthAdjust="spacingAndGlyphs">34.0</text>
<text x="83.15" y="676.00" font-size="8.6" text-anchor="start" fill="#f0f5f2" stroke="#f0f5f2" stroke-width="0.14" transform="rotate(-90 83.15 676.0)" textLength="15.0" lengthAdjust="spacingAndGlyphs">41.2</text>
<text x="106.90" y="676.00" font-size="8.6" text-anchor="start" fill="#f0f5f2" stroke="#f0f5f2" stroke-width="0.14" transform="rotate(-90 106.9 676.0)" textLength="15.0" lengthAdjust="spacingAndGlyphs">33.0</text>
<text x="140.40" y="676.00" font-size="8.6" text-anchor="start" fill="#3a1a2a" stroke="#3a1a2a" stroke-width="0.14" transform="rotate(-90 140.4 676.0)" textLength="15.0" lengthAdjust="spacingAndGlyphs">44.6</text>
<text x="162.30" y="676.00" font-size="8.6" text-anchor="start" fill="#3a1a2a" stroke="#3a1a2a" stroke-width="0.14" transform="rotate(-90 162.3 676.0)" textLength="15.0" lengthAdjust="spacingAndGlyphs">48.1</text>
<text x="183.90" y="676.00" font-size="8.6" text-anchor="start" fill="#3a1a2a" stroke="#3a1a2a" stroke-width="0.14" transform="rotate(-90 183.9 676.0)" textLength="15.0" lengthAdjust="spacingAndGlyphs">46.7</text>
<line x1="43.40" y1="678.00" x2="196.00" y2="678.00" stroke="#222" stroke-width="1.4"/>
<line x1="58.50" y1="678.00" x2="58.50" y2="680.60" stroke="#222" stroke-width="0.9"/>
<line x1="80.25" y1="678.00" x2="80.25" y2="680.60" stroke="#222" stroke-width="0.9"/>
<line x1="104.00" y1="678.00" x2="104.00" y2="680.60" stroke="#222" stroke-width="0.9"/>
<line x1="137.50" y1="678.00" x2="137.50" y2="680.60" stroke="#222" stroke-width="0.9"/>
<line x1="159.40" y1="678.00" x2="159.40" y2="680.60" stroke="#222" stroke-width="0.9"/>
<line x1="181.00" y1="678.00" x2="181.00" y2="680.60" stroke="#222" stroke-width="0.9"/>
<path d="M58.20 606.30 L58.20 602.20 L76.90 602.20 L76.90 605.40" fill="none" stroke="#555" stroke-width="0.9"/>
<circle cx="61.82" cy="598.30" r="1.12" fill="#222"/>
<circle cx="65.67" cy="598.30" r="1.12" fill="#222"/>
<circle cx="69.52" cy="598.30" r="1.12" fill="#222"/>
<circle cx="73.38" cy="598.30" r="1.12" fill="#222"/>
<path d="M79.20 593.80 L79.20 588.50 L103.60 588.50 L103.60 613.40" fill="none" stroke="#555" stroke-width="0.9"/>
<text x="91.60" y="586.70" font-size="8.3" text-anchor="middle" fill="#333" stroke="#333" stroke-width="0.14">ns</text>
<path d="M136.70 592.00 L136.70 588.20 L157.40 588.20 L157.40 590.00" fill="none" stroke="#555" stroke-width="0.9"/>
<circle cx="145.05" cy="584.00" r="1.12" fill="#222"/>
<circle cx="149.15" cy="584.00" r="1.12" fill="#222"/>
<path d="M136.00 580.50 L136.00 577.30 L181.00 577.30 L181.00 580.50" fill="none" stroke="#555" stroke-width="0.9"/>
<text x="158.70" y="575.20" font-size="8.3" text-anchor="middle" fill="#333" stroke="#333" stroke-width="0.14">ns</text>
<text x="44.80" y="690.90" font-size="8.3" text-anchor="end" fill="#333" stroke="#333" stroke-width="0.14">Age</text>
<text x="44.80" y="702.90" font-size="8.3" text-anchor="end" fill="#333" stroke="#333" stroke-width="0.14">HU Gp</text>
<text x="58.50" y="690.90" font-size="8.3" text-anchor="middle" fill="#333" stroke="#333" stroke-width="0.14">4w</text>
<text x="58.50" y="702.90" font-size="8.3" text-anchor="middle" fill="#333" stroke="#333" stroke-width="0.14">0</text>
<text x="80.25" y="690.90" font-size="8.3" text-anchor="middle" fill="#333" stroke="#333" stroke-width="0.14">4w</text>
<text x="80.25" y="702.90" font-size="8.3" text-anchor="middle" fill="#333" stroke="#333" stroke-width="0.14">50</text>
<text x="104.00" y="690.90" font-size="8.3" text-anchor="middle" fill="#333" stroke="#333" stroke-width="0.14">8w</text>
<text x="104.00" y="702.90" font-size="8.3" text-anchor="middle" fill="#333" stroke="#333" stroke-width="0.14">50</text>
<text x="137.50" y="690.90" font-size="8.3" text-anchor="middle" fill="#333" stroke="#333" stroke-width="0.14">4w</text>
<text x="137.50" y="702.90" font-size="8.3" text-anchor="middle" fill="#333" stroke="#333" stroke-width="0.14">0</text>
<text x="159.40" y="690.90" font-size="8.3" text-anchor="middle" fill="#333" stroke="#333" stroke-width="0.14">4w</text>
<text x="159.40" y="702.90" font-size="8.3" text-anchor="middle" fill="#333" stroke="#333" stroke-width="0.14">50</text>
<text x="181.00" y="690.90" font-size="8.3" text-anchor="middle" fill="#333" stroke="#333" stroke-width="0.14">8w</text>
<text x="181.00" y="702.90" font-size="8.3" text-anchor="middle" fill="#333" stroke="#333" stroke-width="0.14">50</text>
<path d="M57.0 707.4 L57.0 709.4 L105.8 709.4 L105.8 707.4" fill="none" stroke="#333" stroke-width="0.9"/>
<text x="81.40" y="720.00" font-size="8.3" text-anchor="middle" fill="#333" stroke="#333" stroke-width="0.14">HbSC</text>
<path d="M133.8 707.4 L133.8 709.4 L183.8 709.4 L183.8 707.4" fill="none" stroke="#333" stroke-width="0.9"/>
<text x="158.80" y="720.00" font-size="8.3" text-anchor="middle" fill="#333" stroke="#333" stroke-width="0.14">HbSS</text>
<text transform="translate(212.60 383.10) scale(0.84 1)" font-size="11.6" font-weight="bold" fill="#111" stroke="#111" stroke-width="0.45">G</text>
<line x1="246.40" y1="386.40" x2="246.40" y2="500.60" stroke="#222" stroke-width="1.4"/>
<line x1="243.60" y1="500.60" x2="246.40" y2="500.60" stroke="#222" stroke-width="1.0"/>
<text x="239.60" y="503.50" font-size="8.3" text-anchor="end" fill="#333" stroke="#333" stroke-width="0.14">0</text>
<line x1="243.60" y1="479.60" x2="246.40" y2="479.60" stroke="#222" stroke-width="1.0"/>
<text x="239.60" y="482.50" font-size="8.3" text-anchor="end" fill="#333" stroke="#333" stroke-width="0.14">20</text>
<line x1="243.60" y1="458.60" x2="246.40" y2="458.60" stroke="#222" stroke-width="1.0"/>
<text x="239.60" y="461.50" font-size="8.3" text-anchor="end" fill="#333" stroke="#333" stroke-width="0.14">40</text>
<line x1="243.60" y1="437.60" x2="246.40" y2="437.60" stroke="#222" stroke-width="1.0"/>
<text x="239.60" y="440.50" font-size="8.3" text-anchor="end" fill="#333" stroke="#333" stroke-width="0.14">60</text>
<line x1="243.60" y1="416.60" x2="246.40" y2="416.60" stroke="#222" stroke-width="1.0"/>
<text x="239.60" y="419.50" font-size="8.3" text-anchor="end" fill="#333" stroke="#333" stroke-width="0.14">80</text>
<line x1="243.60" y1="395.60" x2="246.40" y2="395.60" stroke="#222" stroke-width="1.0"/>
<text x="239.60" y="398.50" font-size="8.3" text-anchor="end" fill="#333" stroke="#333" stroke-width="0.14">100</text>
<text x="220.40" y="443.60" font-size="9.3" text-anchor="middle" fill="#3a3a3a" stroke="#3a3a3a" stroke-width="0.14" transform="rotate(-90 220.4 443.6)" textLength="87.0" lengthAdjust="spacingAndGlyphs">Hemoglobin subtype (%)</text>
<rect x="254.40" y="395.60" width="15.20" height="52.50" fill="#e4067f"/>
<rect x="254.40" y="448.10" width="15.20" height="51.45" fill="#0c6650"/>
<rect x="254.40" y="499.55" width="15.20" height="1.05" fill="#f5930e"/>
<rect x="277.20" y="395.60" width="15.20" height="48.30" fill="#f3a2c8"/>
<rect x="277.20" y="443.90" width="15.20" height="49.35" fill="#8faa9b"/>
<rect x="277.20" y="481.00" width="15.20" height="11.50" fill="#99b2ab"/>
<rect x="277.20" y="492.50" width="15.20" height="8.10" fill="#f5930e"/>
<line x1="262.00" y1="395.60" x2="262.00" y2="395.29" stroke="#333" stroke-width="1.0"/>
<line x1="259.40" y1="395.29" x2="264.60" y2="395.29" stroke="#333" stroke-width="1.0"/>
<line x1="284.80" y1="395.60" x2="284.80" y2="394.03" stroke="#333" stroke-width="1.0"/>
<line x1="282.20" y1="394.03" x2="287.40" y2="394.03" stroke="#333" stroke-width="1.0"/>
<line x1="259.50" y1="447.79" x2="264.50" y2="447.79" stroke="#333" stroke-width="0.8"/>
<line x1="284.80" y1="443.90" x2="284.80" y2="442.85" stroke="#333" stroke-width="1.0"/>
<line x1="282.30" y1="442.85" x2="287.30" y2="442.85" stroke="#333" stroke-width="1.0"/>
<circle cx="281.00" cy="488.50" r="1.12" fill="#0a3026"/>
<circle cx="284.75" cy="488.50" r="1.12" fill="#0a3026"/>
<circle cx="288.50" cy="488.50" r="1.12" fill="#0a3026"/>
<text x="250.50" y="501.00" font-size="8.3" text-anchor="middle" fill="#333" stroke="#333" stroke-width="0.14">1</text>
<text x="299.50" y="501.00" font-size="8.3" text-anchor="middle" fill="#333" stroke="#333" stroke-width="0.14">7</text>
<line x1="244.60" y1="500.60" x2="300.40" y2="500.60" stroke="#222" stroke-width="1.4"/>
<line x1="262.00" y1="500.60" x2="262.00" y2="503.20" stroke="#222" stroke-width="0.9"/>
<line x1="284.80" y1="500.60" x2="284.80" y2="503.20" stroke="#222" stroke-width="0.9"/>
<rect x="303.60" y="387.50" width="6.00" height="5.90" fill="#e4067f"/>
<text x="312.60" y="392.80" font-size="7.8" text-anchor="start" fill="#444" stroke="#444" stroke-width="0.14">HbS</text>
<rect x="303.60" y="398.90" width="6.00" height="5.90" fill="#0c6650"/>
<text x="312.60" y="404.20" font-size="7.8" text-anchor="start" fill="#444" stroke="#444" stroke-width="0.14">HbC</text>
<rect x="303.60" y="410.30" width="6.00" height="5.90" fill="#f5930e"/>
<text x="312.60" y="415.60" font-size="7.8" text-anchor="start" fill="#444" stroke="#444" stroke-width="0.14">HbF</text>
<text x="248.00" y="514.40" font-size="8.3" text-anchor="end" fill="#333" stroke="#333" stroke-width="0.14">Age</text>
<text x="248.00" y="526.00" font-size="8.3" text-anchor="end" fill="#333" stroke="#333" stroke-width="0.14">HU Gp</text>
<text x="262.00" y="514.40" font-size="8.3" text-anchor="middle" fill="#333" stroke="#333" stroke-width="0.14">P7-8</text>
<text x="262.00" y="526.00" font-size="8.3" text-anchor="middle" fill="#333" stroke="#333" stroke-width="0.14">0</text>
<text x="284.80" y="514.40" font-size="8.3" text-anchor="middle" fill="#333" stroke="#333" stroke-width="0.14">P7-8</text>
<text x="284.80" y="526.00" font-size="8.3" text-anchor="middle" fill="#333" stroke="#333" stroke-width="0.14">50</text>
<text transform="translate(344.80 383.50) scale(0.84 1)" font-size="11.6" font-weight="bold" fill="#111" stroke="#111" stroke-width="0.45">H</text>
<line x1="378.60" y1="386.30" x2="378.60" y2="500.60" stroke="#222" stroke-width="1.4"/>
<line x1="375.80" y1="500.60" x2="378.60" y2="500.60" stroke="#222" stroke-width="1.0"/>
<text x="372.00" y="503.50" font-size="8.3" text-anchor="end" fill="#333" stroke="#333" stroke-width="0.14">0</text>
<line x1="375.80" y1="479.80" x2="378.60" y2="479.80" stroke="#222" stroke-width="1.0"/>
<text x="372.00" y="482.70" font-size="8.3" text-anchor="end" fill="#333" stroke="#333" stroke-width="0.14">20</text>
<line x1="375.80" y1="459.00" x2="378.60" y2="459.00" stroke="#222" stroke-width="1.0"/>
<text x="372.00" y="461.90" font-size="8.3" text-anchor="end" fill="#333" stroke="#333" stroke-width="0.14">40</text>
<line x1="375.80" y1="438.20" x2="378.60" y2="438.20" stroke="#222" stroke-width="1.0"/>
<text x="372.00" y="441.10" font-size="8.3" text-anchor="end" fill="#333" stroke="#333" stroke-width="0.14">60</text>
<line x1="375.80" y1="417.40" x2="378.60" y2="417.40" stroke="#222" stroke-width="1.0"/>
<text x="372.00" y="420.30" font-size="8.3" text-anchor="end" fill="#333" stroke="#333" stroke-width="0.14">80</text>
<line x1="375.80" y1="396.60" x2="378.60" y2="396.60" stroke="#222" stroke-width="1.0"/>
<text x="372.00" y="399.50" font-size="8.3" text-anchor="end" fill="#333" stroke="#333" stroke-width="0.14">100</text>
<text x="353.00" y="443.00" font-size="9.3" text-anchor="middle" fill="#3a3a3a" stroke="#3a3a3a" stroke-width="0.14" transform="rotate(-90 353.0 443.0)" textLength="87.0" lengthAdjust="spacingAndGlyphs">Hemoglobin subtype (%)</text>
<rect x="386.80" y="396.60" width="15.20" height="97.76" fill="#e4067f"/>
<rect x="386.80" y="494.36" width="15.20" height="6.24" fill="#f5930e"/>
<rect x="409.80" y="396.60" width="15.20" height="84.24" fill="#f3a2c8"/>
<rect x="409.80" y="480.84" width="15.20" height="19.76" fill="#f5930e"/>
<line x1="394.40" y1="396.60" x2="394.40" y2="394.52" stroke="#333" stroke-width="1.0"/>
<line x1="391.60" y1="394.52" x2="397.20" y2="394.52" stroke="#333" stroke-width="1.0"/>
<line x1="417.40" y1="396.60" x2="417.40" y2="394.52" stroke="#333" stroke-width="1.0"/>
<line x1="414.60" y1="394.52" x2="420.20" y2="394.52" stroke="#333" stroke-width="1.0"/>
<line x1="391.90" y1="492.28" x2="396.90" y2="492.28" stroke="#e87aa8" stroke-width="0.8"/>
<line x1="414.90" y1="478.24" x2="419.90" y2="478.24" stroke="#e87aa8" stroke-width="0.8"/>
<circle cx="413.65" cy="474.20" r="1.12" fill="#5a1040"/>
<circle cx="417.40" cy="474.20" r="1.12" fill="#5a1040"/>
<circle cx="421.15" cy="474.20" r="1.12" fill="#5a1040"/>
<text x="381.70" y="500.60" font-size="8.3" text-anchor="middle" fill="#333" stroke="#333" stroke-width="0.14">6</text>
<text x="431.00" y="490.40" font-size="8.3" text-anchor="middle" fill="#333" stroke="#333" stroke-width="0.14">19</text>
<line x1="376.00" y1="500.60" x2="432.70" y2="500.60" stroke="#222" stroke-width="1.4"/>
<line x1="394.40" y1="500.60" x2="394.40" y2="503.20" stroke="#222" stroke-width="0.9"/>
<line x1="417.40" y1="500.60" x2="417.40" y2="503.20" stroke="#222" stroke-width="0.9"/>
<rect x="436.10" y="387.80" width="5.80" height="5.80" fill="#e4067f"/>
<text x="445.60" y="393.00" font-size="7.8" text-anchor="start" fill="#444" stroke="#444" stroke-width="0.14">HbS</text>
<rect x="436.10" y="400.20" width="5.80" height="5.80" fill="#f5930e"/>
<text x="445.60" y="405.40" font-size="7.8" text-anchor="start" fill="#444" stroke="#444" stroke-width="0.14">HbF</text>
<text x="380.50" y="514.40" font-size="8.3" text-anchor="end" fill="#333" stroke="#333" stroke-width="0.14">Age</text>
<text x="380.50" y="526.00" font-size="8.3" text-anchor="end" fill="#333" stroke="#333" stroke-width="0.14">HU Gp</text>
<text x="394.40" y="514.40" font-size="8.3" text-anchor="middle" fill="#333" stroke="#333" stroke-width="0.14">P7-8</text>
<text x="394.40" y="526.00" font-size="8.3" text-anchor="middle" fill="#333" stroke="#333" stroke-width="0.14">0</text>
<text x="417.40" y="514.40" font-size="8.3" text-anchor="middle" fill="#333" stroke="#333" stroke-width="0.14">P7-8</text>
<text x="417.40" y="526.00" font-size="8.3" text-anchor="middle" fill="#333" stroke="#333" stroke-width="0.14">50</text>
<text transform="translate(212.30 568.80) scale(0.84 1)" font-size="11.6" font-weight="bold" fill="#111" stroke="#111" stroke-width="0.45">I</text>
<line x1="243.90" y1="574.00" x2="243.90" y2="677.70" stroke="#222" stroke-width="1.4"/>
<line x1="241.10" y1="677.70" x2="243.90" y2="677.70" stroke="#222" stroke-width="1.0"/>
<text x="238.00" y="680.60" font-size="8.3" text-anchor="end" fill="#333" stroke="#333" stroke-width="0.14">0.0</text>
<line x1="241.10" y1="644.00" x2="243.90" y2="644.00" stroke="#222" stroke-width="1.0"/>
<text x="238.00" y="646.90" font-size="8.3" text-anchor="end" fill="#333" stroke="#333" stroke-width="0.14">0.2</text>
<line x1="241.10" y1="610.30" x2="243.90" y2="610.30" stroke="#222" stroke-width="1.0"/>
<text x="238.00" y="613.20" font-size="8.3" text-anchor="end" fill="#333" stroke="#333" stroke-width="0.14">0.4</text>
<line x1="241.10" y1="576.60" x2="243.90" y2="576.60" stroke="#222" stroke-width="1.0"/>
<text x="238.00" y="579.50" font-size="8.3" text-anchor="end" fill="#333" stroke="#333" stroke-width="0.14">0.6</text>
<text x="220.90" y="625.50" font-size="9.3" text-anchor="middle" fill="#3a3a3a" stroke="#3a3a3a" stroke-width="0.14" transform="rotate(-90 220.9 625.5)" textLength="59.4" lengthAdjust="spacingAndGlyphs">Elongation index</text>
<line x1="243.90" y1="677.70" x2="342.00" y2="677.70" stroke="#222" stroke-width="1.4"/>
<line x1="244.30" y1="677.70" x2="244.30" y2="680.30" stroke="#222" stroke-width="0.9"/>
<text x="244.30" y="691.20" font-size="8.3" text-anchor="middle" fill="#333" stroke="#333" stroke-width="0.14">0</text>
<line x1="262.80" y1="677.70" x2="262.80" y2="680.30" stroke="#222" stroke-width="0.9"/>
<text x="262.80" y="691.20" font-size="8.3" text-anchor="middle" fill="#333" stroke="#333" stroke-width="0.14">20</text>
<line x1="281.30" y1="677.70" x2="281.30" y2="680.30" stroke="#222" stroke-width="0.9"/>
<text x="281.30" y="691.20" font-size="8.3" text-anchor="middle" fill="#333" stroke="#333" stroke-width="0.14">40</text>
<line x1="299.80" y1="677.70" x2="299.80" y2="680.30" stroke="#222" stroke-width="0.9"/>
<text x="299.80" y="691.20" font-size="8.3" text-anchor="middle" fill="#333" stroke="#333" stroke-width="0.14">60</text>
<line x1="318.30" y1="677.70" x2="318.30" y2="680.30" stroke="#222" stroke-width="0.9"/>
<text x="318.30" y="691.20" font-size="8.3" text-anchor="middle" fill="#333" stroke="#333" stroke-width="0.14">80</text>
<line x1="336.80" y1="677.70" x2="336.80" y2="680.30" stroke="#222" stroke-width="0.9"/>
<text x="336.80" y="691.20" font-size="8.3" text-anchor="middle" fill="#333" stroke="#333" stroke-width="0.14">100</text>
<path d="M257.25 617.0400000000001 L342.35 617.2085000000001" fill="none" stroke="#888" stroke-width="0.9" stroke-dasharray="1.2 1.4"/>
<path d="M257.25 617.71 L258.55 616.65 L259.84 615.69 L261.13 614.83 L262.43 614.06 L263.73 613.36 L265.02 612.74 L266.31 612.18 L267.61 611.68 L268.91 611.23 L270.20 610.83 L271.50 610.46 L272.79 610.14 L274.09 609.84 L275.38 609.58 L276.68 609.34 L277.97 609.13 L279.26 608.94 L280.56 608.77 L281.86 608.62 L283.15 608.48 L284.44 608.36 L285.74 608.24 L287.04 608.14 L288.33 608.05 L289.62 607.97 L290.92 607.90 L292.22 607.84 L293.51 607.78 L294.81 607.73 L296.10 607.68" fill="none" stroke="#222" stroke-width="1.1"/>
<path d="M296.10 607.68 L297.64 607.63 L299.18 607.59 L300.73 607.55 L302.27 607.51 L303.81 607.48 L305.35 607.46 L306.89 607.44 L308.43 607.42 L309.98 607.40 L311.52 607.38 L313.06 607.37 L314.60 607.36 L316.14 607.34 L317.68 607.34 L319.23 607.33 L320.77 607.32 L322.31 607.31 L323.85 607.31 L325.39 607.30 L326.93 607.30 L328.48 607.29 L330.02 607.29 L331.56 607.29 L333.10 607.29 L334.64 607.28 L336.18 607.28 L337.73 607.28 L339.27 607.28 L340.81 607.28 L342.35 607.28" fill="none" stroke="#555" stroke-width="0.9" stroke-dasharray="2.2 1"/>
<path d="M259.10 603.73 L260.49 603.55 L261.88 603.42 L263.26 603.33 L264.65 603.26 L266.04 603.20 L267.43 603.17 L268.81 603.14 L270.20 603.12 L271.59 603.10 L272.98 603.09 L274.36 603.08 L275.75 603.07 L277.14 603.07 L278.53 603.06 L279.91 603.06 L281.30 603.06 L282.69 603.06 L284.07 603.06 L285.46 603.06 L286.85 603.06 L288.24 603.06 L289.62 603.06 L291.01 603.06 L292.40 603.06 L293.79 603.05 L295.18 603.05 L296.56 603.05 L297.95 603.05 L299.34 603.05 L300.73 603.05 L302.11 603.05 L303.50 603.05 L304.89 603.05 L306.28 603.05 L307.66 603.05 L309.05 603.05 L310.44 603.05 L311.83 603.05 L313.21 603.05 L314.60 603.05 L315.99 603.05 L317.38 603.05 L318.76 603.05 L320.15 603.05 L321.54 603.05 L322.93 603.05 L324.31 603.05 L325.70 603.05 L327.09 603.05 L328.48 603.05 L329.86 603.05 L331.25 603.05 L332.64 603.05 L334.03 603.05 L335.41 603.05 L336.80 603.05 L338.19 603.05 L339.58 603.05 L340.96 603.05 L342.35 603.05" fill="none" stroke="#2a8a6e" stroke-width="1.1"/>
<path d="M259.10 603.73 L260.95 603.51 L262.80 603.36 L264.65 603.26 L266.50 603.19 L268.35 603.15 L270.20 603.12 L272.05 603.10 L273.90 603.08 L275.75 603.07 L277.60 603.07 L279.45 603.06 L281.30 603.06" fill="none" stroke="#1f6e58" stroke-width="1.6"/>
<text x="260.50" y="627.00" font-size="8.0" text-anchor="start" fill="#333" stroke="#333" stroke-width="0.14">PoS 20.4 ± 3.0</text>
<text x="292.70" y="704.50" font-size="8.3" text-anchor="middle" fill="#333" stroke="#333" stroke-width="0.14">pO<tspan font-size="5.5" dy="1.8">2</tspan><tspan dy="-1.8"> (mmHg)</tspan></text>
<line x1="250.60" y1="716.40" x2="253.80" y2="716.40" stroke="#2a8a6e" stroke-width="1.0"/>
<text x="257.50" y="719.00" font-size="7.6" text-anchor="start" fill="#333" stroke="#333" stroke-width="0.14">SC HU-50</text>
<line x1="299.40" y1="716.40" x2="302.80" y2="716.40" stroke="#222" stroke-width="1.0"/>
<text x="306.50" y="719.00" font-size="7.6" text-anchor="start" fill="#333" stroke="#333" stroke-width="0.14">SC HU-0</text>
<text transform="translate(360.30 569.20) scale(0.84 1)" font-size="11.6" font-weight="bold" fill="#111" stroke="#111" stroke-width="0.45">J</text>
<line x1="391.50" y1="574.00" x2="391.50" y2="677.60" stroke="#222" stroke-width="1.4"/>
<line x1="388.70" y1="677.60" x2="391.50" y2="677.60" stroke="#222" stroke-width="1.0"/>
<text x="385.60" y="680.50" font-size="8.3" text-anchor="end" fill="#333" stroke="#333" stroke-width="0.14">0.0</text>
<line x1="388.70" y1="643.90" x2="391.50" y2="643.90" stroke="#222" stroke-width="1.0"/>
<text x="385.60" y="646.80" font-size="8.3" text-anchor="end" fill="#333" stroke="#333" stroke-width="0.14">0.2</text>
<line x1="388.70" y1="610.20" x2="391.50" y2="610.20" stroke="#222" stroke-width="1.0"/>
<text x="385.60" y="613.10" font-size="8.3" text-anchor="end" fill="#333" stroke="#333" stroke-width="0.14">0.4</text>
<line x1="388.70" y1="576.50" x2="391.50" y2="576.50" stroke="#222" stroke-width="1.0"/>
<text x="385.60" y="579.40" font-size="8.3" text-anchor="end" fill="#333" stroke="#333" stroke-width="0.14">0.6</text>
<text x="368.00" y="625.80" font-size="9.3" text-anchor="middle" fill="#3a3a3a" stroke="#3a3a3a" stroke-width="0.14" transform="rotate(-90 368.0 625.8)" textLength="59.0" lengthAdjust="spacingAndGlyphs">Elongation index</text>
<line x1="391.50" y1="677.60" x2="507.50" y2="677.60" stroke="#222" stroke-width="1.4"/>
<line x1="392.50" y1="677.60" x2="392.50" y2="680.20" stroke="#222" stroke-width="0.9"/>
<text x="392.50" y="691.60" font-size="8.3" text-anchor="middle" fill="#333" stroke="#333" stroke-width="0.14">0</text>
<line x1="415.15" y1="677.60" x2="415.15" y2="680.20" stroke="#222" stroke-width="0.9"/>
<text x="415.15" y="691.60" font-size="8.3" text-anchor="middle" fill="#333" stroke="#333" stroke-width="0.14">20</text>
<line x1="437.80" y1="677.60" x2="437.80" y2="680.20" stroke="#222" stroke-width="0.9"/>
<text x="437.80" y="691.60" font-size="8.3" text-anchor="middle" fill="#333" stroke="#333" stroke-width="0.14">40</text>
<line x1="460.45" y1="677.60" x2="460.45" y2="680.20" stroke="#222" stroke-width="0.9"/>
<text x="460.45" y="691.60" font-size="8.3" text-anchor="middle" fill="#333" stroke="#333" stroke-width="0.14">60</text>
<line x1="483.10" y1="677.60" x2="483.10" y2="680.20" stroke="#222" stroke-width="0.9"/>
<text x="483.10" y="691.60" font-size="8.3" text-anchor="middle" fill="#333" stroke="#333" stroke-width="0.14">80</text>
<line x1="505.75" y1="677.60" x2="505.75" y2="680.20" stroke="#222" stroke-width="0.9"/>
<text x="505.75" y="691.60" font-size="8.3" text-anchor="middle" fill="#333" stroke="#333" stroke-width="0.14">100</text>
<path d="M404.5 647.5 C406.67 645.62 413.25 641.25 417.50 636.25 C421.75 631.25 425.00 622.38 430.00 617.50 C435.00 612.62 442.50 609.17 447.50 607.00 C452.50 604.83 450.25 605.04 460.00 604.50 C469.75 603.96 498.33 603.88 506.00 603.75" fill="none" stroke="#6a7e8a" stroke-width="0.7"/>
<path d="M404.5 647.5 C405.42 645.21 407.83 638.33 410.00 633.75 C412.17 629.17 414.58 623.54 417.50 620.00 C420.42 616.46 422.92 614.79 427.50 612.50 C432.08 610.21 439.58 607.71 445.00 606.25 C450.42 604.79 449.83 604.38 460.00 603.75 C470.17 603.12 498.33 602.71 506.00 602.50" fill="none" stroke="#3e5566" stroke-width="1.1"/>
<path d="M408.75 610 C409.79 609.58 412.71 608.37 415.00 607.50 C417.29 606.63 419.17 605.80 422.50 604.80 C425.83 603.80 430.83 602.50 435.00 601.50 C439.17 600.50 442.50 599.47 447.50 598.80 C452.50 598.13 455.25 597.80 465.00 597.50 C474.75 597.20 499.17 597.08 506.00 597.00" fill="none" stroke="#e0508e" stroke-width="0.8" stroke-dasharray="2 1"/>
<path d="M408.75 610 C409.16 609.20 409.86 606.63 411.20 605.20 C412.54 603.77 414.50 602.35 416.80 601.40 C419.10 600.45 421.72 600.08 425.00 599.50 C428.28 598.92 430.67 598.30 436.50 597.90 C442.33 597.50 448.42 597.25 460.00 597.10 C471.58 596.95 498.33 597.02 506.00 597.00" fill="none" stroke="#e0107a" stroke-width="1.8"/>
<path d="M408.75 610 C409.16 609.20 409.86 606.63 411.20 605.20 C412.54 603.77 414.50 602.35 416.80 601.40 C419.10 600.45 423.63 599.82 425.00 599.50" fill="none" stroke="#d80a70" stroke-width="2.6"/>
<text x="408.00" y="593.20" font-size="8.2" text-anchor="start" fill="#e0107a" stroke="#e0107a" stroke-width="0.14">PoS = 17.34±2.6</text>
<text x="433.80" y="623.00" font-size="8.2" text-anchor="start" fill="#4a5a68" stroke="#4a5a68" stroke-width="0.14">PoS = 28.8±10.5</text>
<text x="450.70" y="703.60" font-size="8.3" text-anchor="middle" fill="#333" stroke="#333" stroke-width="0.14">pO<tspan font-size="5.5" dy="1.8">2</tspan><tspan dy="-1.8"> (mmHg)</tspan></text>
<line x1="410.00" y1="715.80" x2="414.00" y2="715.80" stroke="#e0107a" stroke-width="1.2"/>
<text x="417.60" y="718.40" font-size="7.3" text-anchor="start" fill="#333" stroke="#333" stroke-width="0.14">SS HU-50</text>
<line x1="457.40" y1="715.80" x2="461.00" y2="715.80" stroke="#222" stroke-width="1.0"/>
<text x="465.00" y="718.40" font-size="7.6" text-anchor="start" fill="#333" stroke="#333" stroke-width="0.14">SS HU-0</text>
</svg>
<div id="frame"></div>
</div></body></html>
